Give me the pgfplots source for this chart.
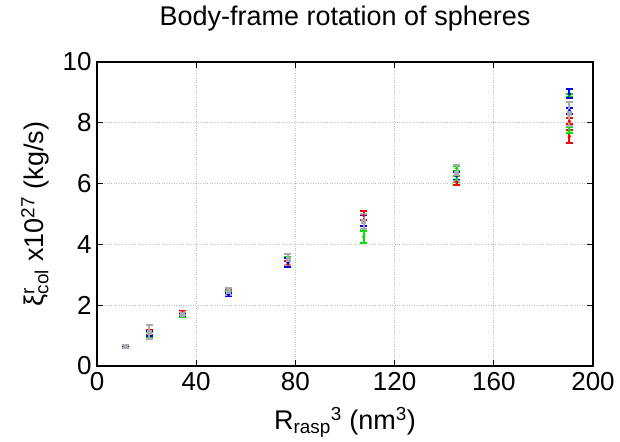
\documentclass[border=0pt]{standalone}
\usepackage{pgfplots}
\pgfplotsset{compat=1.18}
\usepackage{fontspec}
\setmainfont{Liberation Sans}
\definecolor{ggreen}{RGB}{0,230,0}
\definecolor{ggray}{RGB}{170,170,170}

\begin{document}
\begin{tikzpicture}
\begin{axis}[
    name=ax,
    scale only axis,
    width=496pt, height=304pt,
    xmin=0, xmax=200, ymin=0, ymax=10,
    xtick={0,40,...,200}, ytick={0,2,...,10},
    tick align=inside,
    major tick length=6pt,
    every tick/.style={black, line width=1pt},
    axis line style={line width=1.2pt},
    grid=major,
    grid style={dotted, gray!50, line width=0.8pt},
    ticklabel style={font=\fontsize{26}{30}\selectfont},
    xticklabel style={yshift=-3pt},
    yticklabel style={xshift=-2pt},
    /pgf/number format/assume math mode=true,
    title={Body-frame rotation of spheres},
    title style={at={(axis description cs:0.5,1)}, anchor=center, yshift=37pt, font=\fontsize{27}{30}\selectfont},
    xlabel={R\textsubscript{rasp}\textsuperscript{3} (nm\textsuperscript{3})},
    ylabel={ξ\rlap{\textsuperscript{r}}\textsubscript{col} x10\textsuperscript{27} (kg/s)},
    xlabel style={at={(axis description cs:0.5,0)}, anchor=center, yshift=-56pt, font=\fontsize{27}{30}\selectfont},
    ylabel style={at={(axis description cs:0,0.5)}, anchor=center, rotate=0, yshift=62pt, font=\fontsize{27}{30}\selectfont},
    error bars/y dir=both, error bars/y explicit,
    error bars/error bar style={line width=2pt},
    error bars/error mark options={rotate=90, mark size=3.5pt, line width=2pt},
]
% red
\addplot[only marks, red, mark=*, mark size=1.5pt] coordinates {
(11.5,0.65) +- (0,0.03) (21,1.1) +- (0,0.08) (34.5,1.76) +- (0,0.05)
(53,2.45) +- (0,0.06) (77,3.35) +- (0,0.1) (107.5,4.95) +- (0,0.15)
(145,6.05) +- (0,0.08) (190.5,7.55) +- (0,0.2) (190.5,8.05) +- (0,0.1)
};
% green
\addplot[only marks, ggreen, mark=*, mark size=1.5pt] coordinates {
(11.5,0.62) +- (0,0.03) (21,1.05) +- (0,0.08) (34.5,1.65) +- (0,0.04)
(53,2.4) +- (0,0.06) (77,3.45) +- (0,0.12) (107.5,4.25) +- (0,0.2)
(145,6.15) +- (0,0.1) (145,6.5) +- (0,0.08) (190.5,7.75) +- (0,0.1) (190.5,8.9) +- (0,0.06)
};
% blue
\addplot[only marks, blue, mark=*, mark size=1.5pt] coordinates {
(11.5,0.64) +- (0,0.03) (21,1.08) +- (0,0.08) (34.5,1.7) +- (0,0.05)
(53,2.35) +- (0,0.05) (77,3.4) +- (0,0.15) (107.5,4.8) +- (0,0.18)
(145,6.25) +- (0,0.12) (190.5,8.4) +- (0,0.1) (190.5,8.95) +- (0,0.15)
};
% gray
\addplot[only marks, ggray, mark=square*, mark size=2pt] coordinates {
(11.5,0.65) +- (0,0.05) (21,1.12) +- (0,0.22) (34.5,1.72) +- (0,0.05)
(53,2.45) +- (0,0.1) (77,3.5) +- (0,0.18) (107.5,4.75) +- (0,0.25)
(145,6.35) +- (0,0.25) (190.5,8.3) +- (0,0.4)
};
\end{axis}
\pgfresetboundingbox
\path[use as bounding box] ([shift={(-97pt,-75pt)}]ax.south west) rectangle ([shift={(27pt,62pt)}]ax.north east);
\end{tikzpicture}
\end{document}
